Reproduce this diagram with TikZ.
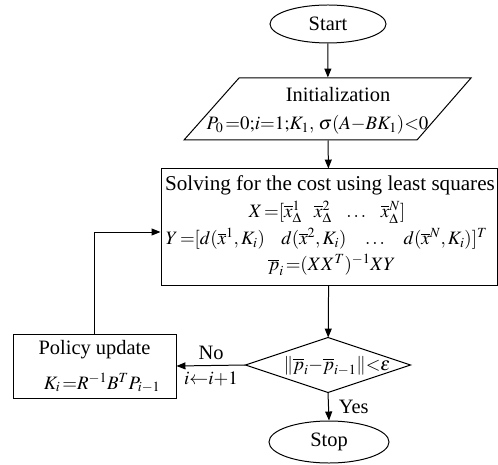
\documentclass[tikz,border=0pt]{standalone}
\usepackage{mathptmx}
\usepackage[no-math]{fontspec}
\setmainfont{Liberation Serif}
\usetikzlibrary{arrows.meta,shapes.geometric}
\newcommand{\ob}[1]{\overline{#1}}
\newcommand{\gapx}{\hskip 12.5bp}
\newcommand{\gapy}{\hskip 16.5bp}
\begin{document}
\begin{tikzpicture}[x=1bp,y=-1bp,line width=1pt,font=\fontsize{20.5}{24}\selectfont,
  arr/.style={-{Triangle[length=9pt,width=7pt]}},
  term/.style={draw,ellipse,inner sep=0pt},
  frame/.style={draw,rectangle,inner sep=0pt},
  ghost/.style={rectangle,inner sep=0pt},
  txt/.style={inner sep=0pt},
  mth/.style={inner sep=0pt,font=\fontsize{19}{23}\selectfont}]
\useasboundingbox (0,0) rectangle (498,465);
% nodes
\node[term,minimum width=116bp,minimum height=38bp] (start) at (328,24) {Start};
\node[ghost,minimum width=232bp,minimum height=62bp] (init) at (327.75,109) {};
\draw (239,78) -- (471,78) -- (417,140) -- (184,140) -- cycle;
\node[txt] (initT) at (338,95) {Initialization};
\node[mth] (initM) at (317.5,125) {$P_0\,{=}0{;}i{=}1{;}K_1,\,\sigma(A{-}BK_1){<}0$};
\node[frame,minimum width=336bp,minimum height=116bp] (solve) at (329,227) {};
\node[txt,font=\fontsize{21.2}{24}\selectfont] (solveT) at (330,185) {Solving for the cost using least squares};
\node[mth] (solveX) at (327,212) {$X\,{=}[\ob{x}^1_\Delta\gapx \ob{x}^2_\Delta\gapx \ldots\gapx \ob{x}^N_\Delta]$};
\node[mth] (solveY) at (326.5,239) {$Y\,{=}[d(\ob{x}^1,K_i)\gapy d(\ob{x}^2,K_i)\gapy \ldots\gapy d(\ob{x}^N,K_i)]^T$};
\node[mth] (solveP) at (332,265) {$\ob{p}_i\,{=}(XX^T)^{-1}XY$};
\node[ghost,minimum width=164bp,minimum height=54bp] (dec) at (328,365) {};
\draw (dec.north) -- (dec.east) -- (dec.south) -- (dec.west) -- cycle;
\node[mth] (decT) at (337,366) {$\|\ob{p}_i{-}\ob{p}_{i-1}\|{<}\varepsilon$};
\node[term,minimum width=120bp,minimum height=42bp] (stop) at (329,442) {Stop};
\node[frame,minimum width=163bp,minimum height=64bp] (policy) at (94.5,366) {};
\node[txt] (polT) at (94.5,350) {Policy update};
\node[mth] (polM) at (102,383) {$K_i\,{=}R^{-1}B^T P_{i-1}$};
% connectors
\draw[arr] (start) -- (init);
\draw[arr] (init) -- (solve);
\draw[arr] (solve) -- (dec);
\draw[arr] (dec.south) -- (stop.north) node[midway,right=10pt,txt] {Yes};
\draw[arr] (dec.west) -- (policy.east)
  node[midway,above=5pt,txt] {No}
  node[midway,below=6pt,mth] {$i{\leftarrow}i{+}1$};
\draw[arr] (policy.north) |- ([yshift=-5bp]solve.west);
\end{tikzpicture}
\end{document}
